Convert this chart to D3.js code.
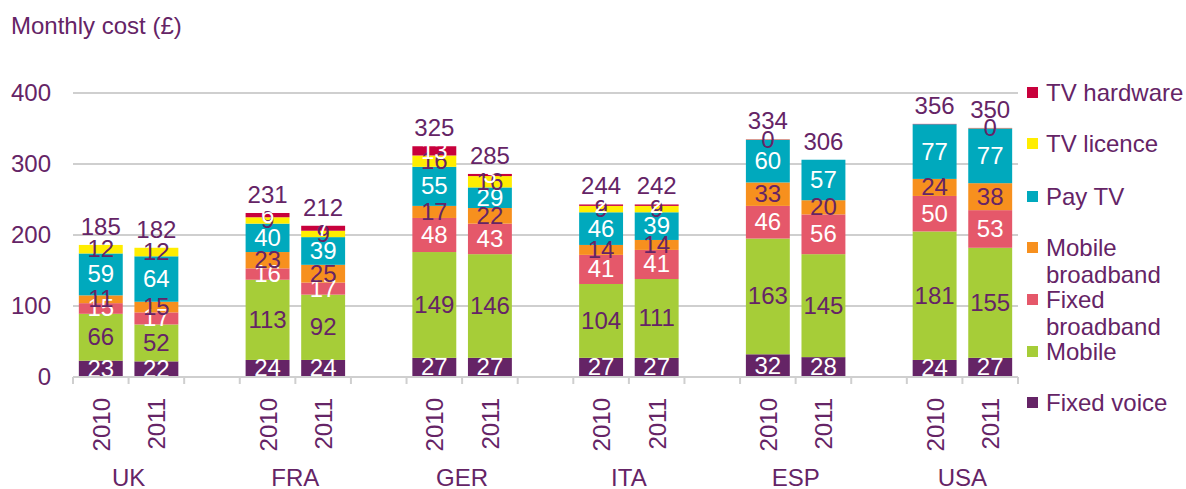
<!DOCTYPE html>
<html>
<head>
<meta charset="utf-8">
<script src="https://cdnjs.cloudflare.com/ajax/libs/d3/7.8.5/d3.min.js"></script>
<style>
    body { margin: 0; background: #fff; }
    svg { font-family: "Liberation Sans", Arial, sans-serif; }
</style>
</head>
<body>
<svg id="chart" width="1186" height="489"></svg>
<script>
const countries = ["UK", "FRA", "GER", "ITA", "ESP", "USA"];
const years = ["2010", "2011"];

// one value per bar: UK 2010, UK 2011, FRA 2010, ... USA 2011
const fixedVoice      = [23, 22, 24, 24, 27, 27, 27, 27, 32, 28, 24, 27];
const mobile          = [66, 52, 113, 92, 149, 146, 104, 111, 163, 145, 181, 155];
const fixedBroadband  = [15, 17, 16, 17, 48, 43, 41, 41, 46, 56, 50, 53];
const mobileBroadband = [11, 15, 23, 25, 17, 22, 14, 14, 33, 20, 24, 38];
const payTV           = [59, 64, 40, 39, 55, 29, 46, 39, 60, 57, 77, 77];
const tvLicence       = [12, 12, 9, 9, 16, 16, 9, 9, 0.3, 0, 0, 0.3];
const tvHardware      = [0, 0, 6, 7, 13, 3, 2, 2, 0.5, 0, 0.5, 0.5];
const totals          = [185, 182, 231, 212, 325, 285, 244, 242, 334, 306, 356, 350];

const yTicks = [0, 100, 200, 300, 400];

const purple = "#652466";
const fontSize = 24;

const series = [
    { key: "Fixed voice", values: fixedVoice, color: "#652466", text: "#fff" },
    { key: "Mobile", values: mobile, color: "#a6cd38", text: purple },
    { key: "Fixed broadband", values: fixedBroadband, color: "#e5586a", text: "#fff" },
    { key: "Mobile broadband", values: mobileBroadband, color: "#f7901e", text: purple },
    { key: "Pay TV", values: payTV, color: "#00a9bd", text: "#fff" },
    { key: "TV licence", values: tvLicence, color: "#ffed00", text: purple },
    { key: "TV hardware", values: tvHardware, color: "#c8003c", text: "#fff" },
];

// bar list, with an empty slot between countries
const bars = [];
const slots = [];
countries.forEach((c, i) => {
    years.forEach((y, j) => {
        const row = { id: c + "-" + y, country: c, year: y, total: totals[i * 2 + j] };
        series.forEach(s => { row[s.key] = s.values[i * 2 + j]; });
        bars.push(row);
        slots.push(row.id);
    });
    if (i < countries.length - 1) slots.push(c + "-gap");
});

const svg = d3.select("#chart");
const plotLeft = 73, plotRight = 1018, plotTop = 93, plotBottom = 377;

const x = d3.scaleBand().domain(slots).range([plotLeft, plotRight]).paddingInner(0.21).paddingOuter(0.105);
const y = d3.scaleLinear().domain([0, 400]).range([plotBottom, plotTop]);

// gridlines
svg.append("g")
    .selectAll("line")
    .data(yTicks.filter(t => t > 0))
    .enter()
    .append("line")
    .attr("x1", plotLeft)
    .attr("x2", plotRight)
    .attr("y1", d => y(d))
    .attr("y2", d => y(d))
    .attr("stroke", "#cfcfcf")
    .attr("stroke-width", 2);

// y axis labels
svg.append("g")
    .selectAll("text")
    .data(yTicks)
    .enter()
    .append("text")
    .attr("x", 51)
    .attr("y", d => y(d) + 8)
    .attr("text-anchor", "end")
    .attr("fill", purple)
    .attr("font-size", fontSize)
    .text(d => d);

svg.append("text")
    .attr("x", 11)
    .attr("y", 34)
    .attr("fill", purple)
    .attr("font-size", fontSize)
    .text("Monthly cost (£)");

// stacked bars
const stack = d3.stack().keys(series.map(s => s.key));
const layers = stack(bars);

const layerG = svg.append("g")
    .selectAll("g")
    .data(layers)
    .enter()
    .append("g")
    .attr("fill", (d, i) => series[i].color);

layerG.selectAll("rect")
    .data(d => d)
    .enter()
    .append("rect")
    .attr("x", d => x(d.data.id))
    .attr("width", x.bandwidth())
    .attr("y", d => y(d[1]))
    .attr("height", d => y(d[0]) - y(d[1]));

// segment labels
layers.forEach((layer, i) => {
    const s = series[i];
    const minShown = s.key === "TV hardware" ? 1 : 0.1;
    svg.append("g")
        .selectAll("text")
        .data(layer.filter(d => d[1] - d[0] >= minShown))
        .enter()
        .append("text")
        .attr("x", d => x(d.data.id) + x.bandwidth() / 2)
        .attr("y", d => y((d[0] + d[1]) / 2) + 8)
        .attr("text-anchor", "middle")
        .attr("fill", s.text)
        .attr("font-size", fontSize)
        .text(d => Math.round(d[1] - d[0]));
});

// totals
svg.append("g")
    .selectAll("text")
    .data(bars)
    .enter()
    .append("text")
    .attr("x", d => x(d.id) + x.bandwidth() / 2)
    .attr("y", d => y(d3.sum(series, s => d[s.key])) - 10)
    .attr("text-anchor", "middle")
    .attr("fill", purple)
    .attr("font-size", fontSize)
    .text(d => d.total);

// x axis
const step = x.step();
svg.append("line")
    .attr("x1", plotLeft)
    .attr("x2", plotRight)
    .attr("y1", plotBottom)
    .attr("y2", plotBottom)
    .attr("stroke", "#cfcfcf")
    .attr("stroke-width", 2);

svg.append("g")
    .selectAll("line")
    .data(d3.range(slots.length + 1))
    .enter()
    .append("line")
    .attr("x1", i => plotLeft + i * step)
    .attr("x2", i => plotLeft + i * step)
    .attr("y1", plotBottom)
    .attr("y2", plotBottom + 7)
    .attr("stroke", "#cfcfcf")
    .attr("stroke-width", 2);

svg.append("g")
    .selectAll("text")
    .data(bars)
    .enter()
    .append("text")
    .attr("transform", d => `translate(${x(d.id) + x.bandwidth() / 2 + 9},398) rotate(-90)`)
    .attr("text-anchor", "end")
    .attr("fill", purple)
    .attr("font-size", fontSize)
    .text(d => d.year);

svg.append("g")
    .selectAll("text")
    .data(countries)
    .enter()
    .append("text")
    .attr("x", c => (x(c + "-2010") + x(c + "-2011") + x.bandwidth()) / 2)
    .attr("y", 486)
    .attr("text-anchor", "middle")
    .attr("fill", purple)
    .attr("font-size", fontSize)
    .text(c => c);

// legend
const legendRows = [
    { key: "TV hardware", lines: ["TV hardware"], y: 93 },
    { key: "TV licence", lines: ["TV licence"], y: 144 },
    { key: "Pay TV", lines: ["Pay TV"], y: 197 },
    { key: "Mobile broadband", lines: ["Mobile", "broadband"], y: 248 },
    { key: "Fixed broadband", lines: ["Fixed", "broadband"], y: 300 },
    { key: "Mobile", lines: ["Mobile"], y: 352 },
    { key: "Fixed voice", lines: ["Fixed voice"], y: 403 },
];
const legend = svg.append("g")
    .selectAll("g")
    .data(legendRows)
    .enter()
    .append("g");

legend.append("rect")
    .attr("x", 1027)
    .attr("y", d => d.y - 6)
    .attr("width", 11)
    .attr("height", 11)
    .attr("fill", d => series.find(s => s.key === d.key).color);

legend.append("text")
    .attr("x", 1046)
    .attr("y", d => d.y + 8)
    .attr("fill", purple)
    .attr("font-size", fontSize)
    .selectAll("tspan")
    .data(d => d.lines)
    .enter()
    .append("tspan")
    .attr("x", 1046)
    .attr("dy", (d, i) => i === 0 ? 0 : 27)
    .text(d => d);
</script>
</body>
</html>
